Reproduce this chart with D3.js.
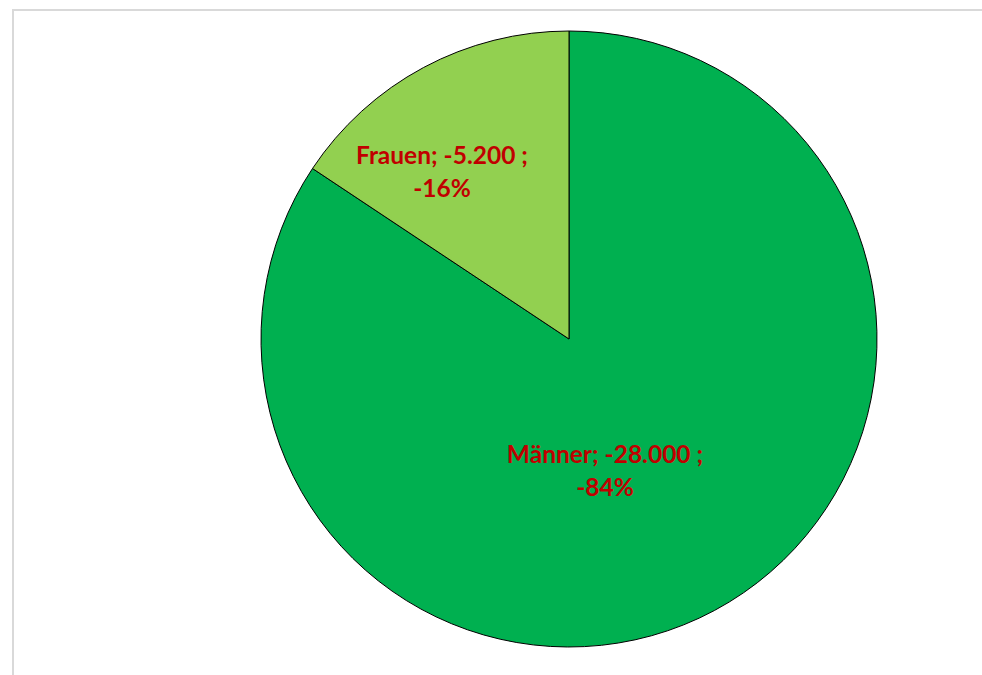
<!DOCTYPE html>
<html><head><meta charset="UTF-8">
<style>
body { margin: 0; background: #fff; }
.lbl { font-family: Lato, "Open Sans", sans-serif; font-weight: bold; fill: #c00000; }
</style>
</head>
<body>
<svg width="982" height="675"></svg>
<script src="https://cdn.jsdelivr.net/npm/d3@7"></script>
<script>

var categories = ["Männer", "Frauen"];
var values = [-28000, -5200];
var valueLabels = ["-28.000", "-5.200"];
var percentLabels = ["-84%", "-16%"];
var colors = ["#00b050", "#92d050"];

// label placement relative to the pie center (Excel puts them by hand)
var labelOffset = [[36, 124], [-127, -175]];

var svg = d3.select("svg");

// chart frame
svg.append("rect")
    .attr("x", 13).attr("y", 10)
    .attr("width", 1000).attr("height", 700)
    .attr("fill", "none")
    .attr("stroke", "#d9d9d9")
    .attr("stroke-width", 2);

var cx = 569, cy = 339, r = 308;

var g = svg.append("g").attr("transform", "translate(" + cx + "," + cy + ")");

var data = categories.map(function(c, i) { return {name: c, value: values[i], i: i}; });

var pie = d3.pie()
    .sort(null)
    .value(function(d) { return Math.abs(d.value); });

var arc = d3.arc().innerRadius(0).outerRadius(r);

var arcs = pie(data);

g.selectAll("path.slice")
    .data(arcs)
  .enter().append("path")
    .attr("class", "slice")
    .attr("d", arc)
    .attr("fill", function(d) { return colors[d.data.i]; })
    .attr("stroke", "#000")
    .attr("stroke-width", 1);

var lbl = g.selectAll("text.lbl")
    .data(arcs)
  .enter().append("text")
    .attr("class", "lbl")
    .attr("text-anchor", "middle")
    .style("font-size", "24.5px")
    .attr("transform", function(d) {
      var o = labelOffset[d.data.i];
      return "translate(" + o[0] + "," + o[1] + ")";
    });

lbl.append("tspan")
    .attr("x", 0)
    .text(function(d) { return d.data.name + "; " + valueLabels[d.data.i] + " ;"; });

lbl.append("tspan")
    .attr("x", 0)
    .attr("dy", 33)
    .text(function(d) { return percentLabels[d.data.i]; });

</script>
</body></html>
